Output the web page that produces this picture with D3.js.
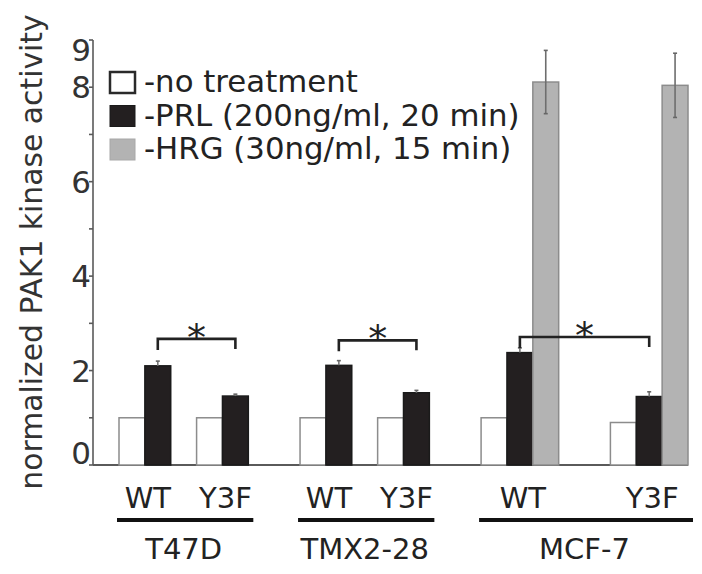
<!DOCTYPE html>
<html>
<head>
<meta charset="utf-8">
<script src="https://cdn.jsdelivr.net/npm/d3@7"></script>
<style>
  body { margin: 0; background: #fff; }
  svg { display: block; font-family: "DejaVu Sans", Verdana, sans-serif; }
</style>
</head>
<body>
<svg id="chart" width="702" height="574"></svg>
<script>
// data
let cellLines = ["T47D", "TMX2-28", "MCF-7"]
let conditions = ["WT", "Y3F", "WT", "Y3F", "WT", "Y3F"]
let conditionCell = [0, 0, 1, 1, 2, 2]
let noTreatment = [1.0, 1.0, 1.0, 1.0, 1.0, 0.9]
let prl = [2.10, 1.46, 2.11, 1.53, 2.38, 1.45]
let prlErr = [0.10, 0.04, 0.10, 0.05, 0.10, 0.10]
let hrg = [null, null, null, null, 8.11, 8.04]
let hrgErr = [null, null, null, null, 0.67, 0.68]
let legendLabels = ["-no treatment", "-PRL (200ng/ml, 20 min)", "-HRG (30ng/ml, 15 min)"]
let yTicks = [0, 2, 4, 6, 8, 9]
let yMinorTicks = [1, 3, 5, 7]
// significance brackets: [left condition, right condition, level]
let sigPairs = [[0, 1, 2.67], [2, 3, 2.64], [4, 5, 2.71]]

let svg = d3.select("#chart")
let colors = { none: "#ffffff", prl: "#231f20", hrg: "#b3b3b3" }

// slot layout: each condition takes 3 bar slots, 1 slot between cell lines,
// 2 extra slots between conditions when HRG bars are drawn
let slotStart = []
let slot = 0
conditions.forEach((c, i) => {
    if (i > 0) {
        if (conditionCell[i] !== conditionCell[i - 1]) slot += 1
        else if (hrg[i] !== null) slot += 2
    }
    slotStart.push(slot)
    slot += 3
})

let x = d3.scaleLinear().domain([0, slot]).range([119, 688])
let y = d3.scaleLinear().domain([0, 9]).range([465, 40])
let bw = x(1) - x(0)

// axes
let axisG = svg.append("g").attr("stroke", "#5a5a5a").attr("stroke-width", 1.6)
axisG.append("line").attr("x1", 93).attr("x2", 93).attr("y1", y(9)).attr("y2", y(0))
axisG.append("line").attr("x1", 93).attr("x2", x(slot)).attr("y1", y(0)).attr("y2", y(0)).attr("stroke-width", 2)
axisG.selectAll(".tk").data(yTicks.concat(yMinorTicks)).enter().append("line")
     .attr("x1", 89).attr("x2", 93).attr("y1", d => y(d)).attr("y2", d => y(d))

svg.selectAll(".ylab").data(yTicks).enter().append("text")
   .attr("x", 91)
   .attr("y", d => y(d) + 11 + (d === 9 ? 10 : 0) + (d === 0 ? -12 : 0))
   .attr("text-anchor", "end")
   .attr("font-size", 31)
   .attr("fill", "#333")
   .text(d => d)

svg.append("text")
   .attr("transform", "translate(42, 252) rotate(-90)")
   .attr("text-anchor", "middle")
   .attr("font-size", 29.8)
   .attr("fill", "#333")
   .text("normalized PAK1 kinase activity")

// bars
let barData = []
conditions.forEach((c, i) => {
    barData.push({ s: slotStart[i], v: noTreatment[i], kind: "none" })
    barData.push({ s: slotStart[i] + 1, v: prl[i], e: prlErr[i], kind: "prl" })
    if (hrg[i] !== null) barData.push({ s: slotStart[i] + 2, v: hrg[i], e: hrgErr[i], kind: "hrg" })
})

svg.selectAll(".bar").data(barData).enter().append("rect")
   .attr("x", d => x(d.s))
   .attr("y", d => y(d.v))
   .attr("width", bw)
   .attr("height", d => y(0) - y(d.v))
   .attr("fill", d => colors[d.kind])
   .attr("stroke", d => d.kind === "prl" ? "#1a1a1a" : "#8c8c8c")
   .attr("stroke-width", 1.5)

// error bars
let errG = svg.selectAll(".err").data(barData.filter(d => d.e)).enter().append("g")
errG.append("line")
    .attr("x1", d => x(d.s) + bw / 2).attr("x2", d => x(d.s) + bw / 2)
    .attr("y1", d => y(d.v + d.e)).attr("y2", d => d.kind === "hrg" ? y(d.v - d.e) : y(d.v))
    .attr("stroke", d => d.kind === "hrg" ? "#6e6e6e" : "#777")
    .attr("stroke-width", 1.6)
errG.selectAll("line.cap").data(d => d.kind === "hrg" ? [[d, d.v + d.e], [d, d.v - d.e]] : [[d, d.v + d.e]])
    .enter().append("line").attr("class", "cap")
    .attr("x1", p => x(p[0].s) + bw / 2 - 2).attr("x2", p => x(p[0].s) + bw / 2 + 2)
    .attr("y1", p => y(p[1])).attr("y2", p => y(p[1]))
    .attr("stroke", "#666").attr("stroke-width", 1.6)

// significance brackets
let sig = svg.selectAll(".sig").data(sigPairs).enter().append("g")
sig.append("path")
   .attr("d", d => {
       let x1 = x(slotStart[d[0]] + 1.5), x2 = x(slotStart[d[1]] + 1.5)
       let yt = y(d[2])
       return `M${x1},${yt + 11}V${yt}H${x2}V${yt + 10}`
   })
   .attr("fill", "none").attr("stroke", "#222").attr("stroke-width", 2.6)
sig.append("text")
   .attr("x", d => (x(slotStart[d[0]] + 1.5) + x(slotStart[d[1]] + 1.5)) / 2)
   .attr("y", d => y(d[2]) + 12)
   .attr("text-anchor", "middle")
   .attr("font-size", 38)
   .attr("fill", "#222")
   .text("*")

// x labels
let condExtent = (i) => {
    let s0 = slotStart[i]
    let s1 = s0 + (hrg[i] !== null ? 3 : 2)
    return [x(s0), x(s1)]
}
svg.selectAll(".cond").data(conditions).enter().append("text")
   .attr("x", (d, i) => d3.mean(condExtent(i)) + 3)
   .attr("y", 508)
   .attr("text-anchor", "middle")
   .attr("font-size", 29)
   .attr("fill", "#222")
   .text(d => d)

let cellG = svg.selectAll(".cell").data(cellLines).enter().append("g")
cellG.append("line")
     .attr("x1", (d, c) => condExtent(conditionCell.indexOf(c))[0] - 2)
     .attr("x2", (d, c) => condExtent(conditionCell.lastIndexOf(c))[1] + 5)
     .attr("y1", 520).attr("y2", 520)
     .attr("stroke", "#111").attr("stroke-width", 4)
cellG.append("text")
     .attr("x", (d, c) => (condExtent(conditionCell.indexOf(c))[0] + condExtent(conditionCell.lastIndexOf(c))[1]) / 2)
     .attr("y", 559)
     .attr("text-anchor", "middle")
     .attr("font-size", 29)
     .attr("fill", "#222")
     .text(d => d)

// legend
let legend = svg.append("g").attr("transform", "translate(109, 92)")
let lg = legend.selectAll("g").data(legendLabels).enter().append("g")
               .attr("transform", (d, i) => `translate(0, ${i * 33.5})`)
lg.append("rect")
  .attr("x", 1).attr("y", -20).attr("width", 25).attr("height", 21)
  .attr("fill", (d, i) => [colors.none, colors.prl, colors.hrg][i])
  .attr("stroke", (d, i) => ["#2a2a2a", "#1a1a1a", "#a8a8a8"][i])
  .attr("stroke-width", (d, i) => i === 0 ? 2.5 : 1)
lg.append("text")
  .attr("x", 35).attr("y", 0)
  .attr("font-size", 30.8)
  .attr("fill", "#222")
  .text(d => d)
</script>
</body>
</html>
